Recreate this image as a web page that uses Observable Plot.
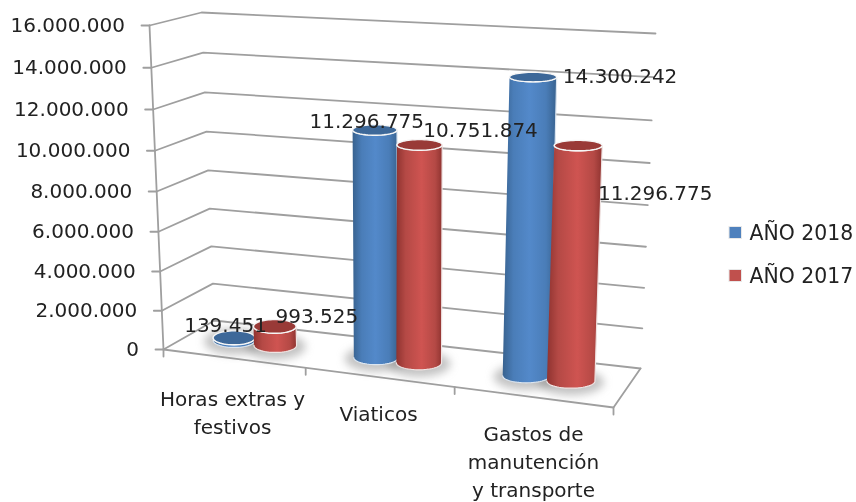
<!DOCTYPE html>
<html lang="es">
<head>
<meta charset="utf-8">
<style>html,body{margin:0;padding:0;background:#fff}</style>
<script src="https://cdn.jsdelivr.net/npm/d3@7"></script>
<script src="https://cdn.jsdelivr.net/npm/@observablehq/plot@0.6"></script>
</head>
<body>
<div id="chart"></div>
<script>
// ---- data ----
const categories = ["Horas extras y\nfestivos", "Viaticos", "Gastos de\nmanutención\ny transporte"];
const seriesNames = ["AÑO 2018", "AÑO 2017"];
const values2018 = [139451, 11296775, 14300242];
const values2017 = [993525, 10751874, 11296775];
const axisTicks = d3.range(0, 16000001, 2000000);
const axisMax = 16000000;

// ---- 3D box layout (pixels on the page) ----
const box = {
  FL: {b: [163, 349], v: [-14, -324]},
  BL: {b: [214, 320], v: [-13, -308]},
  BR: {b: [640, 368], v: [15, -335]},
  FR: {b: [613, 407], v: [13, -349]}
};
const blueU = [0.103, 0.427, 0.77];
const redU = [0.197, 0.525, 0.872];
const barDepth = 0.5;
const floorTickU = [0, 0.316, 0.647, 1];
const catPos = [[232, 410.5], [378, 412], [533, 459.5]];
const labelShift2018 = [[-8.5, -12], [-8, -8], [87, 0]];
const labelShift2017 = [[42, -10], [61, -14], [77, 48]];

const fmt = d3.formatLocale({decimal: ",", thousands: ".", grouping: [3], currency: ["", ""]}).format(",");
const toVal = (px) => (349 - px) / 324 * axisMax;      // page pixel to value along the y scale
const warp = (v) => { const x = v / axisMax; return 0.9506 * x + 0.0494 * x * x; }; // mild perspective
const mix = (a, b, t) => a + (b - a) * t;
function project(u, d, v) {
  const q = (k, i) => mix(mix(box.FL[k][i], box.FR[k][i], u), mix(box.BL[k][i], box.BR[k][i], u), d);
  const w = warp(v);
  return [q("b", 0) + q("v", 0) * w, q("b", 1) + q("v", 1) * w];
}
const P = (p, extra = {}) => ({px: p[0], py: toVal(p[1]), ...extra});

// grid
const gridRows = axisTicks.flatMap((t) => [[0, 0], [0, 1], [1, 1]].map(([u, d]) => P(project(u, d, t), {id: t})));
const floorRows = [[0, 0], [1, 0], [1, 1]].map(([u, d]) => P(project(u, d, 0)));
const axisRows = [P(project(0, 0, 0)), P(project(0, 0, axisMax))];
const leftTicks = axisTicks.flatMap((t) => {
  const p = project(0, 0, t);
  return [P([p[0] - 8, p[1]], {id: t}), P(p, {id: t})];
});
const floorTicks = floorTickU.flatMap((u) => {
  const p = project(u, 0, 0);
  return [P(p, {id: u}), P([p[0], p[1] + 7], {id: u})];
});
const tickLabels = axisTicks.map((t) => {
  const p = project(0, 0, t);
  return P([p[0] - 24.5, p[1]], {label: fmt(t)});
});

// cylinders
const bars = (vals, us) => vals.map((v, i) => {
  const u = us[i];
  const base = project(u, barDepth, 0);
  const top = project(u, barDepth, v);
  const rx = 20.5 + 4 * u;
  return {i, v, base, top, rx, rb: 7, rt: 7 - 2.5 * v / axisMax};
});
const arc = (c, rx, ry, a0, a1, n, id) => d3.range(n + 1).map((k) => {
  const a = mix(a0, a1, k / n);
  return P([c[0] + rx * Math.cos(a), c[1] + ry * Math.sin(a)], {id});
});
const bodyRows = (bs) => bs.flatMap((b) => [
  ...arc(b.base, b.rx, b.rb, Math.PI, 0, 30, b.i),
  ...arc(b.top, b.rx, b.rt, 0, Math.PI, 30, b.i)
]);
const capRows = (bs) => bs.flatMap((b) => arc(b.top, b.rx, b.rt, 0, 2 * Math.PI, 60, b.i));
const shadowRows = (bs) => bs.flatMap((b) => arc([b.base[0], b.base[1] + 1], b.rx + 9, b.rb + 6, 0, 2 * Math.PI, 60, b.i));

const blue = bars(values2018, blueU);
const red = bars(values2017, redU);

const labelRows = [
  ...blue.map((b, i) => P([b.top[0] + labelShift2018[i][0], b.top[1] + labelShift2018[i][1]], {label: fmt(b.v)})),
  ...red.map((b, i) => P([b.top[0] + labelShift2017[i][0], b.top[1] + labelShift2017[i][1]], {label: fmt(b.v)}))
];
const catRows = categories.map((c, i) => P(catPos[i], {label: c}));
const legendRows = seriesNames.map((s, i) => {
  const yc = [232.5, 275.5][i];
  return {
    x1: 729, x2: 741.5, y1: toVal(yc + 6), y2: toVal(yc - 6),
    tx: 749, ty: toVal(yc), label: s, color: ["#4F81BD", "#C0504D"][i]
  };
});

const defs = () => d3.create("svg:defs").html(`
  <linearGradient id="gb" x1="0" x2="1" y1="0" y2="0">
    <stop offset="0" stop-color="#38628f"/><stop offset="0.2" stop-color="#4a7db8"/>
    <stop offset="0.5" stop-color="#5389ca"/><stop offset="0.8" stop-color="#4a7db8"/>
    <stop offset="1" stop-color="#38628f"/></linearGradient>
  <linearGradient id="gr" x1="0" x2="1" y1="0" y2="0">
    <stop offset="0" stop-color="#8f3330"/><stop offset="0.2" stop-color="#b44945"/>
    <stop offset="0.55" stop-color="#cf5451"/><stop offset="0.85" stop-color="#b44945"/>
    <stop offset="1" stop-color="#8f3330"/></linearGradient>`).node();

const xy = {x: "px", y: "py"};
const gridStyle = {stroke: "#9f9f9f", strokeWidth: 1.8};
const cylinder = (bs, grad, cap, rim) => [
  Plot.line(bodyRows(bs), {...xy, z: "id", fill: grad, stroke: rim, strokeWidth: 1.2, curve: "linear"}),
  Plot.line(capRows(bs), {...xy, z: "id", fill: cap, stroke: "#f6f6f6", strokeWidth: 1.4, curve: "linear"})
];
const textBase = {fontSize: 20, fill: "#222"};

const chart = Plot.plot({
  width: 856,
  height: 502,
  marginTop: 0, marginRight: 0, marginBottom: 0, marginLeft: 0,
  x: {domain: [0, 856], range: [0, 856], axis: null},
  y: {domain: [0, axisMax], range: [349, 25], axis: null},
  style: {fontFamily: "'DejaVu Sans', sans-serif", background: "#fff", filter: "blur(0.4px)"},
  marks: [
    defs,
    Plot.line(gridRows, {...xy, z: "id", ...gridStyle}),
    Plot.line(floorRows, {...xy, ...gridStyle}),
    Plot.line(axisRows, {...xy, ...gridStyle}),
    Plot.line(leftTicks, {...xy, z: "id", ...gridStyle}),
    Plot.line(floorTicks, {...xy, z: "id", ...gridStyle}),
    Plot.line([...shadowRows(blue), ...shadowRows(red).map((d) => ({...d, id: d.id + 10}))],
      {...xy, z: "id", fill: "#7a7a7a", fillOpacity: 0.45, stroke: "none", imageFilter: "blur(4px)"}),
    ...cylinder(blue, "url(#gb)", "#3d6899", "#dbe5f0"),
    ...cylinder(red, "url(#gr)", "#993a37", "#efe3e2"),
    Plot.text(tickLabels, {...xy, text: "label", textAnchor: "end", ...textBase}),
    Plot.text(labelRows, {...xy, text: "label", ...textBase}),
    Plot.text(catRows, {...xy, text: "label", lineHeight: 1.4, ...textBase}),
    Plot.rect(legendRows, {x1: "x1", x2: "x2", y1: "y1", y2: "y2", fill: "color", stroke: "#e8e8e8"}),
    Plot.text(legendRows, {x: "tx", y: "ty", text: "label", textAnchor: "start", fontSize: 20.4, fill: "#222"})
  ]
});
document.getElementById("chart").append(chart);
</script>
</body>
</html>
